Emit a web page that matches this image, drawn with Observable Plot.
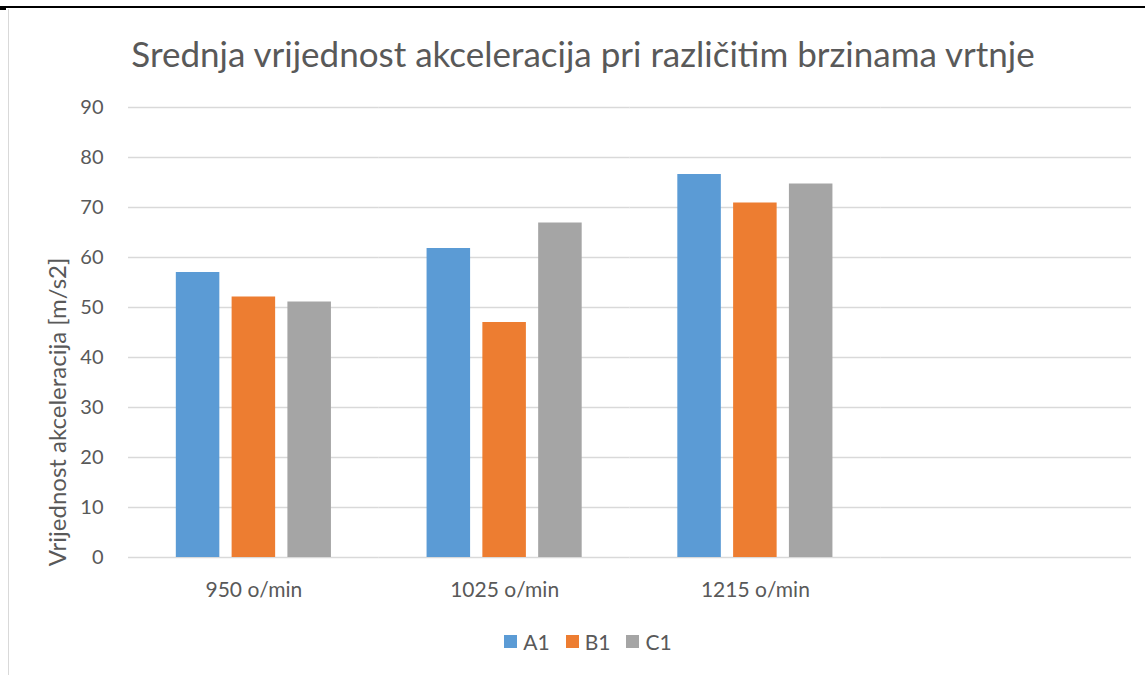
<!DOCTYPE html>
<html>
<head>
<meta charset="utf-8">
<script src="https://cdn.jsdelivr.net/npm/d3@7"></script>
<script src="https://cdn.jsdelivr.net/npm/@observablehq/plot@0.6"></script>
<style>
  html, body { margin: 0; padding: 0; background: #fff; }
  #wrap { position: relative; width: 1145px; height: 675px; overflow: hidden; font-family: Lato, "Open Sans", sans-serif; color: #595959; }
  #topline { position: absolute; left: 0; top: 6px; width: 1145px; height: 2px; background: #000; z-index: 2; }
  #topnub { position: absolute; left: 0; top: 6px; width: 6px; height: 4px; background: #000; z-index: 2; }
  #leftline { position: absolute; left: 8px; top: 9px; width: 1px; height: 666px; background: #d9d9d9; z-index: 2; }
  #title { position: absolute; left: 20px; width: 1126px; top: 32px; text-align: center; font-size: 35px; line-height: 42px; white-space: nowrap; }
  #chart { position: absolute; left: 0; top: 80px; }
  #ylabel { position: absolute; left: 56px; top: 412px; transform: translate(-50%, -50%) rotate(-90deg); font-size: 24px; white-space: nowrap; }
  #legend { position: absolute; left: 0; width: 1176px; top: 629px; display: flex; justify-content: center; align-items: center; font-size: 21px; }
  .item { display: flex; align-items: center; margin: 0 8px; }
  .sw { width: 13px; height: 13px; margin-right: 6px; }
</style>
</head>
<body>
<div id="wrap">
  <div id="title">Srednja vrijednost akceleracija pri različitim brzinama vrtnje</div>
  <div id="chart"></div>
  <div id="ylabel">Vrijednost akceleracija [m/s2]</div>
  <div id="legend"></div>
  <div id="topline"></div>
  <div id="topnub"></div>
  <div id="leftline"></div>
</div>
<script>
// ---- data ----
const categories = ["950 o/min", "1025 o/min", "1215 o/min", " "];
const series = ["A1", "B1", "C1"];
const valuesA1 = [57.0, 61.8, 76.6];
const valuesB1 = [52.1, 47.0, 70.9];
const valuesC1 = [51.1, 66.9, 74.7];
const yTicks = [0, 10, 20, 30, 40, 50, 60, 70, 80, 90];
const colors = ["#5b9bd5", "#ed7d31", "#a5a5a5"];

const seriesValues = [valuesA1, valuesB1, valuesC1];
const rows = [];
series.forEach((s, si) => {
  seriesValues[si].forEach((v, ci) => rows.push({cat: categories[ci], series: s, value: v}));
});
const gridRows = [];
categories.forEach(c => yTicks.forEach(t => gridRows.push({cat: c, v: t})));

const chart = Plot.plot({
  width: 1145,
  height: 540,
  marginLeft: 128,
  marginRight: 14,
  marginTop: 27,
  marginBottom: 63,
  style: {fontFamily: "Lato, 'Open Sans', sans-serif", fontSize: "20px", color: "#595959", background: "transparent", overflow: "visible"},
  fx: {domain: categories, padding: 0, round: false, label: null, tickSize: 0, tickPadding: 25, axis: "bottom"},
  x: {domain: series, paddingInner: 0.22, paddingOuter: 0.857, round: false, axis: null},
  y: {domain: [0, 90], ticks: yTicks, tickSize: 0, tickPadding: 25, label: null},
  color: {domain: series, range: colors},
  marks: [
    Plot.ruleY(gridRows, {fx: "cat", y: "v", stroke: "#d9d9d9", strokeWidth: 1.3}),
    Plot.barY(rows, {fx: "cat", x: "series", y: "value", fill: "series"})
  ]
});
document.getElementById("chart").appendChild(chart);
// larger category labels
d3.select(chart).selectAll("[aria-label='fx-axis tick label'] text, g[aria-label='fx-axis tick label']").style("font-size", "21px");

const legend = document.getElementById("legend");
series.forEach((s, i) => {
  const it = document.createElement("div");
  it.className = "item";
  const sw = document.createElement("span");
  sw.className = "sw";
  sw.style.background = colors[i];
  const tx = document.createElement("span");
  tx.textContent = s;
  it.appendChild(sw);
  it.appendChild(tx);
  legend.appendChild(it);
});
</script>
</body>
</html>
